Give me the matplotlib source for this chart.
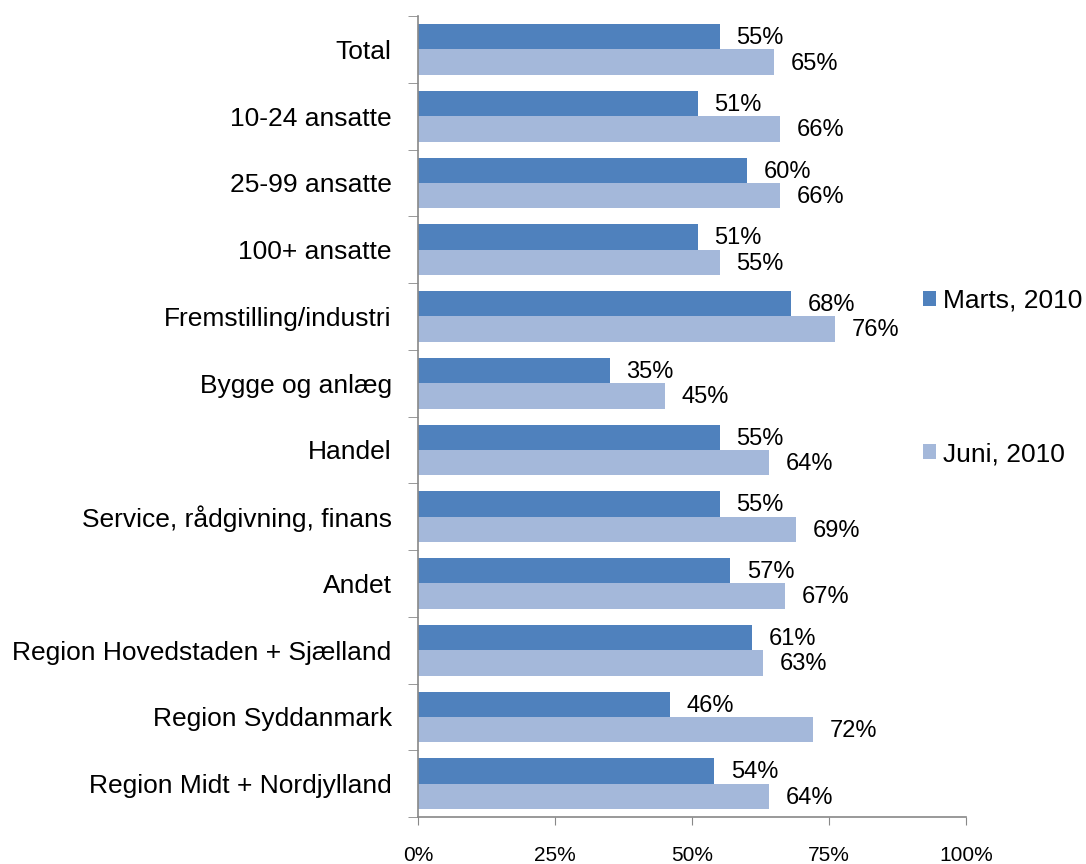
import numpy as np
import matplotlib.pyplot as plt

plt.rcParams['font.family'] = ['Liberation Sans', 'DejaVu Sans']

categories = ["Total", "10-24 ansatte", "25-99 ansatte", "100+ ansatte",
              "Fremstilling/industri", "Bygge og anlæg", "Handel",
              "Service, rådgivning, finans", "Andet",
              "Region Hovedstaden + Sjælland", "Region Syddanmark",
              "Region Midt + Nordjylland"]
marts = [55, 51, 60, 51, 68, 35, 55, 55, 57, 61, 46, 54]
juni = [65, 66, 66, 55, 76, 45, 64, 69, 67, 63, 72, 64]
series_names = ["Marts, 2010", "Juni, 2010"]
colors = ["#4F81BD", "#A4B8DA"]

fig = plt.figure(figsize=(10.86, 8.64), dpi=100)
ax = fig.add_axes([0.385, 0.0544, 0.5046, 0.927])

y = np.arange(len(categories))
h = 0.38
b1 = ax.barh(y - h / 2, marts, height=h, color=colors[0], label=series_names[0])
b2 = ax.barh(y + h / 2, juni, height=h, color=colors[1], label=series_names[1])

for bars, vals in [(b1, marts), (b2, juni)]:
    for bar, v in zip(bars, vals):
        ax.annotate(f"{v}%", (v, bar.get_y() + bar.get_height() / 2),
                    xytext=(12, -1), textcoords="offset points",
                    ha="left", va="center", fontsize=17)

ax.set_xlim(0, 100)
ax.set_ylim(len(categories) - 0.5, -0.5)
ax.set_xticks([0, 25, 50, 75, 100])
ax.set_xticklabels(["0%", "25%", "50%", "75%", "100%"], fontsize=15)
ax.tick_params(axis="x", length=6, color="#888888", pad=15)

ax.set_yticks(y)
ax.set_yticklabels(categories, fontsize=19)
ax.tick_params(axis="y", length=0, pad=19)
ax.set_yticks(np.arange(len(categories) + 1) - 0.5, minor=True)
ax.tick_params(axis="y", which="minor", length=7, color="#888888")

for s in ["top", "right"]:
    ax.spines[s].set_visible(False)
for s in ["left", "bottom"]:
    ax.spines[s].set_color("#888888")
    ax.spines[s].set_linewidth(1.2)

ax.legend(loc="center left", bbox_to_anchor=(0.840, 0.563), frameon=False,
          fontsize=19, handlelength=0.5, handleheight=0.5, handletextpad=0.27,
          labelspacing=4.9, borderaxespad=0, bbox_transform=fig.transFigure)

fig.savefig("out.png", dpi=100)
